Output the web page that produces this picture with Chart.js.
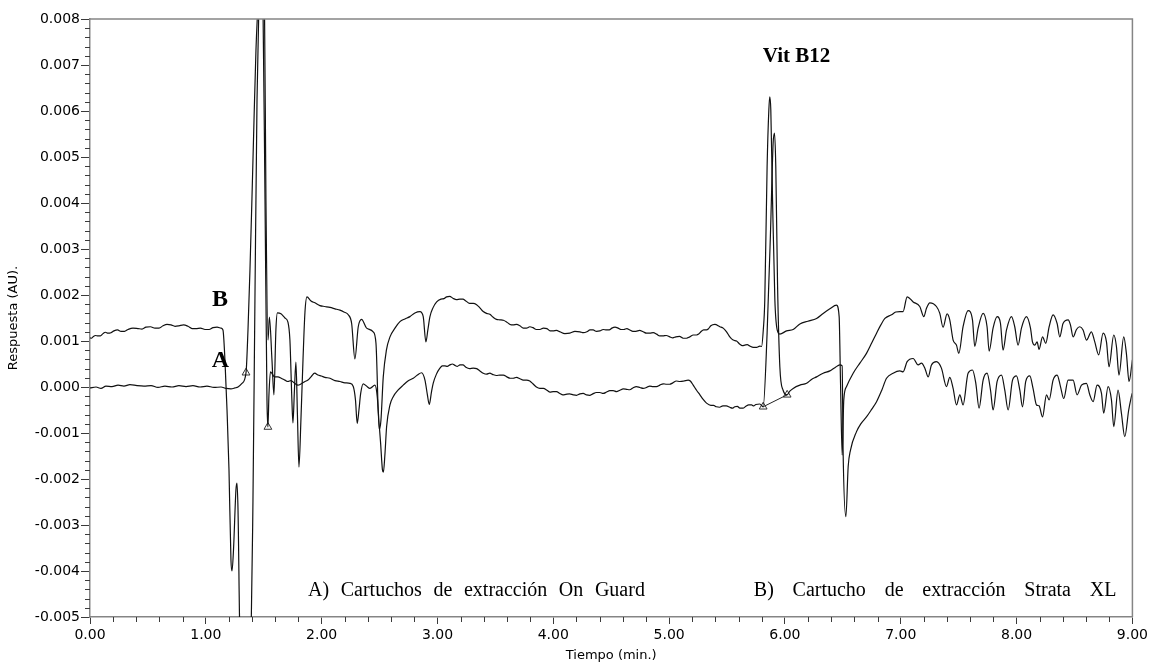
<!DOCTYPE html>
<html>
<head>
<meta charset="utf-8">
<title>Cromatograma Vit B12</title>
<script src="https://cdn.jsdelivr.net/npm/chart.js@4.4.0/dist/chart.umd.min.js"></script>
<style>
  html, body { margin: 0; padding: 0; background: #fff; }
  #wrap { width: 1151px; height: 664px; }
</style>
</head>
<body>
<div id="wrap"><canvas id="chromatogram" width="1151" height="664"></canvas></div>
<script>
// eje de tiempo (min) y de respuesta (AU)
const xTicks = [0, 1, 2, 3, 4, 5, 6, 7, 8, 9];
const yTicks = [-0.005, -0.004, -0.003, -0.002, -0.001, 0, 0.001, 0.002, 0.003, 0.004, 0.005, 0.006, 0.007, 0.008];

// B) cartucho Strata XL  [tiempo, respuesta]
const traceB = [
  [0.000,0.00107],[0.013,0.00106],[0.026,0.00109],[0.048,0.00112],[0.069,0.00111],[0.090,0.00111],[0.112,0.00116],[0.133,0.00119],[0.155,0.00117],[0.181,0.00118],[0.207,0.00122],[0.238,0.00124],[0.268,0.00121],[0.298,0.00121],[0.328,0.00125],[0.371,0.00128],[0.414,0.00127],[0.449,0.00126],[0.483,0.00130],[0.522,0.00131],[0.561,0.00128],[0.596,0.00128],[0.630,0.00133],[0.665,0.00136],[0.699,0.00135],[0.734,0.00132],[0.768,0.00133],[0.807,0.00135],[0.846,0.00132],[0.881,0.00127],[0.915,0.00127],[0.954,0.00128],[0.993,0.00125],[1.028,0.00125],[1.062,0.00129],[1.097,0.00130],[1.131,0.00128],
  [1.148,0.00124],[1.165,0.00059],[1.183,-0.00050],[1.200,-0.00180],[1.217,-0.00376],[1.226,-0.00400],[1.239,-0.00354],[1.260,-0.00224],[1.269,-0.00209],[1.278,-0.00268],[1.295,-0.00550],[1.347,-0.00650],[1.390,-0.00550],[1.407,-0.00246],[1.424,0.00189],[1.442,0.00624],[1.459,0.00840],[1.485,0.00930],[1.506,0.00840],[1.519,0.00407],[1.537,0.00102],[1.549,0.00152],[1.571,0.00059],[1.588,-0.00017],[1.605,0.00124],[1.618,0.00161],[1.649,0.00159],[1.683,0.00150],[1.709,0.00141],[1.726,0.00102],[1.743,-0.00028],[1.752,-0.00078],[1.765,-0.00007],[1.778,0.00054],[1.791,-0.00061],[1.804,-0.00174],[1.821,-0.00072],[1.839,0.00059],[1.856,0.00163],[1.873,0.00196],[1.908,0.00187],[1.942,0.00183],[1.985,0.00177],
  [2.028,0.00175],[2.072,0.00173],[2.115,0.00170],[2.158,0.00167],[2.192,0.00163],[2.230,0.00157],[2.259,0.00138],[2.287,0.00061],[2.316,0.00131],[2.345,0.00147],[2.388,0.00128],[2.445,0.00120],[2.469,0.00095],[2.497,-0.00092],[2.512,-0.00072],[2.532,0.00022],[2.559,0.00080],[2.590,0.00109],[2.633,0.00128],[2.676,0.00142],[2.719,0.00148],[2.762,0.00153],[2.805,0.00161],[2.849,0.00164],[2.877,0.00153],[2.900,0.00098],[2.917,0.00124],[2.935,0.00153],[2.961,0.00172],[2.993,0.00185],
  [3.030,0.00191],[3.055,0.00192],[3.079,0.00196],[3.106,0.00197],[3.133,0.00193],[3.164,0.00190],[3.194,0.00191],[3.220,0.00191],[3.245,0.00187],[3.277,0.00182],[3.309,0.00182],[3.338,0.00179],[3.366,0.00172],[3.395,0.00164],[3.424,0.00160],[3.452,0.00158],[3.479,0.00152],[3.509,0.00147],[3.539,0.00146],[3.569,0.00145],[3.599,0.00141],[3.627,0.00136],[3.654,0.00135],[3.683,0.00136],[3.712,0.00133],[3.741,0.00128],[3.769,0.00128],[3.797,0.00131],[3.824,0.00129],[3.854,0.00125],[3.884,0.00125],[3.915,0.00128],[3.945,0.00127],[3.972,0.00122],[3.999,0.00122],
  [4.028,0.00123],[4.057,0.00120],[4.100,0.00116],[4.143,0.00117],[4.187,0.00121],[4.230,0.00120],[4.260,0.00118],[4.290,0.00120],[4.317,0.00124],[4.344,0.00124],[4.373,0.00121],[4.402,0.00122],[4.431,0.00125],[4.460,0.00124],[4.483,0.00124],[4.506,0.00128],[4.533,0.00130],[4.560,0.00128],[4.585,0.00125],[4.609,0.00125],[4.635,0.00127],[4.661,0.00124],[4.687,0.00121],[4.713,0.00121],[4.745,0.00123],[4.776,0.00120],[4.805,0.00117],[4.834,0.00117],[4.863,0.00118],[4.892,0.00115],[4.919,0.00111],[4.946,0.00111],[4.976,0.00112],
  [5.006,0.00109],[5.032,0.00107],[5.058,0.00109],[5.090,0.00110],[5.121,0.00106],[5.150,0.00106],[5.179,0.00109],[5.208,0.00113],[5.237,0.00113],[5.255,0.00115],[5.274,0.00120],[5.298,0.00124],[5.323,0.00124],[5.341,0.00127],[5.360,0.00133],[5.395,0.00136],[5.438,0.00131],[5.467,0.00128],[5.496,0.00120],[5.524,0.00109],[5.553,0.00102],[5.582,0.00100],[5.611,0.00093],[5.632,0.00090],[5.654,0.00091],[5.675,0.00092],[5.697,0.00089],[5.726,0.00086],[5.755,0.00086],[5.783,0.00089],[5.798,0.00088],[5.813,0.00124],[5.826,0.00189],[5.846,0.00479],[5.861,0.00602],[5.869,0.00631],[5.878,0.00602],[5.893,0.00407],[5.913,0.00189],[5.933,0.00124],[5.956,0.00115],
  [6.014,0.00122],[6.071,0.00125],[6.129,0.00137],[6.198,0.00143],[6.273,0.00149],[6.330,0.00160],[6.388,0.00170],[6.445,0.00178],[6.468,0.00153],[6.480,0.00008],[6.494,-0.00148],[6.508,-0.00028],[6.532,0.00001],[6.589,0.00030],[6.647,0.00052],[6.704,0.00073],[6.750,0.00096],[6.791,0.00117],[6.828,0.00135],[6.863,0.00149],[6.920,0.00157],[6.957,0.00163],[6.992,0.00164],
  [7.020,0.00164],[7.055,0.00196],[7.107,0.00185],[7.164,0.00175],[7.199,0.00153],[7.222,0.00171],[7.251,0.00183],[7.308,0.00175],[7.337,0.00160],[7.365,0.00130],[7.400,0.00159],[7.423,0.00146],[7.452,0.00102],[7.481,0.00091],[7.501,0.00073],[7.538,0.00131],[7.581,0.00166],[7.619,0.00146],[7.639,0.00088],[7.668,0.00128],[7.711,0.00160],[7.745,0.00131],[7.763,0.00078],[7.797,0.00128],[7.832,0.00153],[7.861,0.00138],[7.883,0.00080],[7.913,0.00124],[7.956,0.00153],[7.984,0.00131],
  [8.013,0.00091],[8.042,0.00128],[8.085,0.00153],[8.120,0.00128],[8.137,0.00098],[8.157,0.00091],[8.177,0.00098],[8.194,0.00082],[8.224,0.00109],[8.252,0.00095],[8.281,0.00131],[8.315,0.00157],[8.350,0.00138],[8.373,0.00109],[8.401,0.00138],[8.445,0.00146],[8.465,0.00135],[8.488,0.00109],[8.517,0.00125],[8.546,0.00131],[8.574,0.00124],[8.603,0.00102],[8.646,0.00120],[8.675,0.00098],[8.709,0.00070],[8.747,0.00117],[8.776,0.00098],[8.798,0.00044],[8.839,0.00113],[8.862,0.00088],[8.884,0.00026],[8.925,0.00109],[8.948,0.00073],[8.971,0.00012],[9.000,0.00059]
];

// A) cartuchos On Guard  [tiempo, respuesta]
const traceA = [
  [0.000,-0.00002],[0.052,0.00000],[0.095,-0.00003],[0.138,0.00002],[0.190,0.00001],[0.242,0.00004],[0.293,0.00002],[0.345,0.00005],[0.406,0.00003],[0.466,0.00002],[0.527,0.00003],[0.587,-0.00001],[0.647,0.00002],[0.708,0.00000],[0.768,0.00003],[0.829,0.00001],[0.889,0.00003],[0.950,0.00000],[1.010,0.00002],[1.070,-0.00001],[1.131,0.00000],[1.174,-0.00003],[1.217,-0.00004],[1.252,-0.00002],[1.278,0.00000],[1.312,0.00008],
  [1.347,0.00031],[1.364,0.00124],[1.381,0.00254],[1.398,0.00407],[1.416,0.00580],[1.433,0.00733],[1.450,0.00830],[1.476,0.00930],[1.493,0.00840],[1.511,0.00407],[1.528,-0.00028],[1.536,-0.00087],[1.545,-0.00017],[1.558,0.00033],[1.594,0.00022],[1.623,0.00022],[1.651,0.00019],[1.683,0.00015],[1.709,0.00012],[1.735,0.00014],[1.767,0.00008],[1.795,0.00004],[1.824,0.00007],[1.856,0.00012],[1.882,0.00015],[1.908,0.00022],[1.940,0.00030],[1.968,0.00026],[1.997,0.00024],
  [2.028,0.00021],[2.072,0.00019],[2.115,0.00014],[2.158,0.00012],[2.201,0.00009],[2.244,0.00008],[2.273,0.00001],[2.292,-0.00028],[2.307,-0.00079],[2.322,-0.00050],[2.337,-0.00014],[2.359,0.00007],[2.387,0.00002],[2.417,-0.00003],[2.460,0.00004],[2.480,-0.00021],[2.494,-0.00072],[2.509,-0.00122],[2.525,-0.00180],[2.533,-0.00185],[2.546,-0.00148],[2.561,-0.00086],[2.590,-0.00039],[2.618,-0.00021],[2.659,-0.00007],[2.704,0.00004],[2.745,0.00013],[2.791,0.00019],[2.827,0.00026],[2.863,0.00031],[2.892,0.00015],[2.913,-0.00017],[2.929,-0.00038],[2.948,-0.00011],[2.963,0.00008],[2.991,0.00028],
  [3.021,0.00041],[3.042,0.00046],[3.064,0.00046],[3.085,0.00045],[3.107,0.00048],[3.129,0.00050],[3.151,0.00047],[3.172,0.00045],[3.194,0.00048],[3.220,0.00048],[3.245,0.00043],[3.277,0.00040],[3.309,0.00041],[3.338,0.00040],[3.366,0.00035],[3.395,0.00030],[3.424,0.00028],[3.452,0.00030],[3.479,0.00027],[3.509,0.00025],[3.539,0.00026],[3.569,0.00026],[3.599,0.00022],[3.627,0.00019],[3.654,0.00019],[3.683,0.00021],[3.712,0.00018],[3.741,0.00015],[3.769,0.00015],[3.797,0.00013],[3.824,0.00007],[3.854,0.00000],[3.884,-0.00003],[3.915,-0.00003],[3.945,-0.00007],[3.972,-0.00011],[3.999,-0.00010],
  [4.028,-0.00010],[4.057,-0.00014],[4.083,-0.00017],[4.109,-0.00016],[4.140,-0.00015],[4.172,-0.00017],[4.201,-0.00018],[4.230,-0.00015],[4.258,-0.00014],[4.287,-0.00017],[4.314,-0.00018],[4.341,-0.00015],[4.371,-0.00012],[4.402,-0.00012],[4.431,-0.00014],[4.460,-0.00011],[4.488,-0.00008],[4.517,-0.00008],[4.546,-0.00010],[4.575,-0.00007],[4.604,-0.00004],[4.633,-0.00005],[4.660,-0.00006],[4.687,-0.00002],[4.717,0.00001],[4.748,-0.00001],[4.776,-0.00003],[4.805,-0.00001],[4.833,0.00002],[4.862,0.00001],[4.891,0.00001],[4.920,0.00004],[4.949,0.00007],[4.978,0.00006],
  [5.005,0.00006],[5.032,0.00009],[5.062,0.00013],[5.093,0.00012],[5.127,0.00013],[5.164,0.00015],[5.183,0.00013],[5.208,0.00004],[5.237,-0.00007],[5.266,-0.00017],[5.294,-0.00027],[5.323,-0.00035],[5.360,-0.00040],[5.384,-0.00040],[5.409,-0.00043],[5.436,-0.00044],[5.464,-0.00041],[5.494,-0.00041],[5.524,-0.00044],[5.545,-0.00046],[5.567,-0.00043],[5.589,-0.00042],[5.611,-0.00046],[5.637,-0.00046],[5.663,-0.00042],[5.687,-0.00039],[5.712,-0.00039],[5.730,-0.00041],[5.749,-0.00038],[5.783,-0.00037],[5.812,-0.00043],[5.846,0.00117],[5.875,0.00334],[5.898,0.00530],[5.910,0.00552],[5.921,0.00479],[5.936,0.00225],[5.956,0.00044],[5.984,-0.00007],[6.019,-0.00017],
  [6.042,-0.00009],[6.071,-0.00003],[6.129,0.00004],[6.187,0.00008],[6.232,0.00017],[6.273,0.00022],[6.330,0.00030],[6.388,0.00035],[6.431,0.00042],[6.474,0.00048],[6.494,0.00046],[6.502,-0.00137],[6.526,-0.00282],[6.546,-0.00173],[6.566,-0.00137],[6.618,-0.00097],[6.655,-0.00080],[6.704,-0.00065],[6.750,-0.00048],[6.791,-0.00032],[6.836,-0.00007],[6.877,0.00019],[6.934,0.00030],[6.992,0.00035],
  [7.020,0.00033],[7.055,0.00055],[7.107,0.00062],[7.150,0.00048],[7.179,0.00052],[7.208,0.00041],[7.237,0.00022],[7.265,0.00048],[7.308,0.00055],[7.351,0.00041],[7.395,0.00001],[7.423,0.00021],[7.452,-0.00003],[7.481,-0.00039],[7.510,-0.00017],[7.538,-0.00039],[7.581,0.00030],[7.619,0.00037],[7.648,0.00008],[7.676,-0.00046],[7.711,0.00015],[7.745,0.00030],[7.775,-0.00007],[7.797,-0.00050],[7.832,0.00012],[7.870,0.00026],[7.898,-0.00007],[7.927,-0.00050],[7.965,0.00015],[7.999,0.00024],
  [8.028,-0.00007],[8.051,-0.00043],[8.079,0.00012],[8.114,0.00024],[8.142,-0.00003],[8.172,-0.00039],[8.194,-0.00041],[8.224,-0.00065],[8.258,-0.00017],[8.281,-0.00028],[8.315,0.00015],[8.350,0.00026],[8.379,0.00001],[8.407,-0.00025],[8.445,0.00015],[8.488,0.00015],[8.522,-0.00017],[8.560,0.00004],[8.603,0.00008],[8.632,-0.00017],[8.661,-0.00032],[8.695,0.00004],[8.733,-0.00014],[8.752,-0.00057],[8.790,0.00001],[8.819,-0.00028],[8.839,-0.00086],[8.876,-0.00007],[8.905,-0.00057],[8.934,-0.00108],[8.968,-0.00050],[8.997,-0.00014]
];

// marcas de integración (inicio / fin de pico)
const peakMarks = [[1.347,0.00031],[1.536,-0.00087],[5.812,-0.00043],[6.019,-0.00017]];

const toXY = rows => rows.map(r => ({ x: r[0], y: r[1] }));

const axisGray = '#858585';
const tickFont = { family: 'DejaVu Sans', size: 14 };
const titleFont = { family: 'DejaVu Sans', size: 13 };

// reparte las palabras entre x0 y x1 (texto justificado)
function spreadText(ctx, text, x0, x1, y) {
  const words = text.split(' ');
  const widths = words.map(w => ctx.measureText(w).width);
  const gap = (x1 - x0 - widths.reduce((s, w) => s + w, 0)) / (words.length - 1);
  let px = x0;
  words.forEach((w, i) => { ctx.fillText(w, px, y); px += widths[i] + gap; });
}

// marco, subdivisiones de los ejes y rótulos
const chromDecor = {
  id: 'chromDecor',
  afterDraw(chart) {
    const { ctx, chartArea: a, scales: { x, y } } = chart;
    ctx.save();
    ctx.strokeStyle = axisGray;
    ctx.lineWidth = 1.5;
    ctx.beginPath();
    ctx.moveTo(a.left, a.top);
    ctx.lineTo(a.right, a.top);
    ctx.lineTo(a.right, a.bottom);
    ctx.stroke();

    ctx.strokeStyle = '#3a3a3a';
    ctx.lineWidth = 1;
    ctx.beginPath();
    for (let i = 1; i < 65; i++) {
      if (i % 5 === 0) continue;
      const py = Math.round(y.getPixelForValue(-0.005 + i * 0.0002)) + 0.5;
      ctx.moveTo(a.left - 5, py);
      ctx.lineTo(a.left, py);
    }
    for (let i = 1; i < 45; i++) {
      if (i % 5 === 0) continue;
      const px = Math.round(x.getPixelForValue(i * 0.2)) + 0.5;
      ctx.moveTo(px, a.bottom);
      ctx.lineTo(px, a.bottom + 5);
    }
    ctx.stroke();

    ctx.fillStyle = '#000';
    ctx.textBaseline = 'alphabetic';
    ctx.textAlign = 'center';
    ctx.font = 'bold 21px "Liberation Serif"';
    ctx.fillText('Vit B12', x.getPixelForValue(6.10), y.getPixelForValue(0.00707));
    ctx.font = 'bold 24px "Liberation Serif"';
    ctx.fillText('B', x.getPixelForValue(1.122), y.getPixelForValue(0.00176));
    ctx.fillText('A', x.getPixelForValue(1.126), y.getPixelForValue(0.00043));

    ctx.textAlign = 'left';
    ctx.font = '20px "Liberation Serif"';
    const lineY = y.getPixelForValue(-0.00455);
    spreadText(ctx, 'A) Cartuchos de extracción On Guard', x.getPixelForValue(1.882), x.getPixelForValue(4.791), lineY);
    spreadText(ctx, 'B) Cartucho de extracción Strata XL', x.getPixelForValue(5.731), x.getPixelForValue(8.862), lineY);
    ctx.restore();
  }
};

const traceStyle = {
  borderColor: '#111',
  borderWidth: 1.2,
  pointRadius: 0,
  fill: false,
  cubicInterpolationMode: 'monotone'
};

new Chart(document.getElementById('chromatogram').getContext('2d'), {
  type: 'line',
  data: {
    datasets: [
      Object.assign({ label: 'B', data: toXY(traceB) }, traceStyle),
      Object.assign({ label: 'A', data: toXY(traceA) }, traceStyle),
      {
        label: 'línea base',
        data: toXY(peakMarks.slice(2)),
        borderColor: '#222',
        borderWidth: 1,
        pointRadius: 0
      },
      {
        label: 'marcas',
        data: toXY(peakMarks),
        showLine: false,
        pointStyle: 'triangle',
        pointRadius: 4.5,
        borderColor: '#333',
        backgroundColor: '#fff',
        borderWidth: 1
      }
    ]
  },
  options: {
    responsive: false,
    animation: false,
    events: [],
    layout: { padding: { top: 19, right: 18, left: 0, bottom: 0 } },
    plugins: { legend: { display: false }, tooltip: { enabled: false } },
    scales: {
      x: {
        type: 'linear',
        min: 0,
        max: 9,
        afterBuildTicks: s => { s.ticks = xTicks.map(v => ({ value: v })); },
        afterFit: s => { s.height = 47; },
        ticks: {
          color: '#000',
          font: tickFont,
          padding: 3,
          maxRotation: 0,
          callback: v => Number(v).toFixed(2)
        },
        grid: { drawOnChartArea: false, drawTicks: true, tickLength: 7, tickColor: '#3a3a3a' },
        border: { color: axisGray, width: 1.5 },
        title: { display: true, text: 'Tiempo (min.)', color: '#000', font: titleFont, padding: { top: 0, bottom: 1 } }
      },
      y: {
        type: 'linear',
        min: -0.005,
        max: 0.008,
        afterBuildTicks: s => { s.ticks = yTicks.map(v => ({ value: v })); },
        afterFit: s => { s.width = 90; },
        ticks: {
          color: '#000',
          font: tickFont,
          padding: 1,
          callback: v => (Math.abs(v) < 1e-9 ? 0 : v).toFixed(3)
        },
        grid: { drawOnChartArea: false, drawTicks: true, tickLength: 9, tickColor: '#3a3a3a' },
        border: { color: axisGray, width: 1.5 },
        title: { display: true, text: 'Respuesta (AU).', color: '#000', font: titleFont, padding: { top: 6, bottom: 0 } }
      }
    }
  },
  plugins: [chromDecor]
});
</script>
</body>
</html>
